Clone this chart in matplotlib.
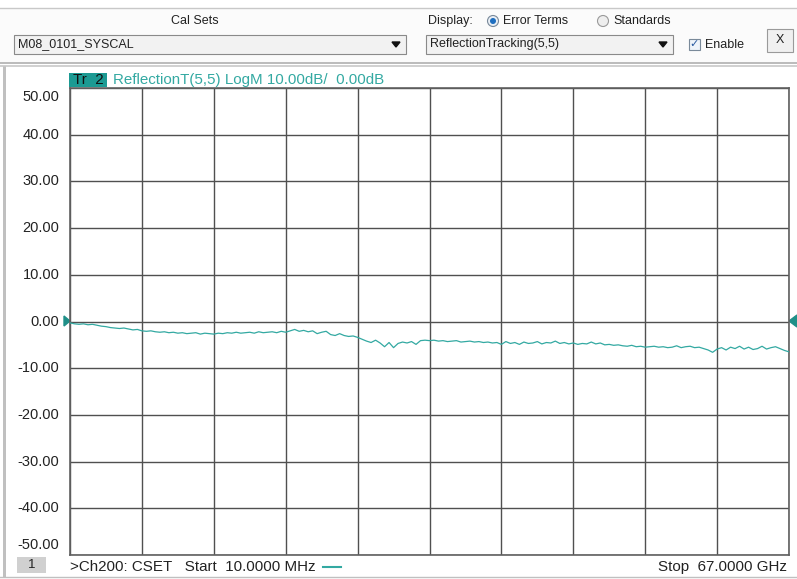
import numpy as np
import matplotlib
matplotlib.use('Agg')
import matplotlib.pyplot as plt
from matplotlib.patches import Rectangle, Circle, Polygon
from matplotlib.transforms import blended_transform_factory

plt.rcParams['font.family'] = ['Liberation Sans', 'DejaVu Sans']

# 扫频设置
START_GHZ = 0.01
STOP_GHZ = 67.0
Y_TICKS = [50, 40, 30, 20, 10, 0, -10, -20, -30, -40, -50]
Y_LABELS = ['50.00', '40.00', '30.00', '20.00', '10.00', '0.00',
            '-10.00', '-20.00', '-30.00', '-40.00', '-50.00']

# ReflectionTracking(5,5) 读数，dB（按格读出，每格16点）
trace_db = [
    -0.3, -0.5, -0.6, -0.5, -0.7, -0.6, -0.8, -1.0, -1.1, -1.3, -1.4, -1.5, -1.4, -1.6, -1.8, -1.7,
    -2.0, -2.1, -2.0, -2.2, -2.3, -2.2, -2.4, -2.3, -2.5, -2.4, -2.6, -2.5, -2.4, -2.7, -2.5, -2.6,
    -2.7, -2.5, -2.6, -2.4, -2.5, -2.3, -2.5, -2.4, -2.3, -2.5, -2.2, -2.4, -2.3, -2.2, -2.4, -2.1,
    -2.3, -2.0, -1.7, -2.1, -1.9, -2.2, -2.0, -2.6, -2.3, -2.1, -2.8, -3.0, -2.6, -3.0, -3.2, -3.1,
    -3.4, -3.8, -4.2, -4.5, -4.0, -4.6, -5.4, -4.5, -5.6, -4.7, -4.4, -4.6, -4.3, -4.9, -4.1, -4.0,
    -4.1, -4.0, -4.2, -4.1, -4.3, -4.2, -4.1, -4.4, -4.3, -4.2, -4.4, -4.3, -4.5, -4.4, -4.6, -4.5,
    -4.9, -4.3, -4.7, -4.5, -4.9, -4.4, -4.7, -4.6, -4.3, -4.8, -4.5, -4.6, -4.2, -4.7, -4.5, -4.8,
    -4.6, -4.9, -4.7, -4.8, -4.4, -4.8, -4.6, -5.0, -4.9, -5.1, -5.0, -5.2, -5.3, -5.1, -5.4, -5.3,
    -5.5, -5.4, -5.3, -5.5, -5.4, -5.6, -5.5, -5.2, -5.6, -5.4, -5.3, -5.6, -5.5, -5.8, -6.1, -6.6,
    -5.9, -5.6, -6.1, -5.5, -5.8, -5.3, -5.9, -5.5, -6.0, -5.8, -5.3, -5.9, -5.6, -5.4, -5.8, -6.2,
    -6.5,
]
freq_ghz = np.linspace(START_GHZ, STOP_GHZ, len(trace_db))

TEAL = '#33a9a2'
GRID = '#505050'
W, H = 797, 579
UI_FS = 9
TXT_FS = 10.9

fig = plt.figure(figsize=(W / 100, H / 100), dpi=100)
fig.patch.set_facecolor('white')

# 顶部控制面板（像素坐标）
bg = fig.add_axes([0, 0, 1, 1])
bg.set_xlim(0, W)
bg.set_ylim(H, 0)
bg.axis('off')
bg.add_patch(Rectangle((0, 8), W, 56, facecolor='#fbfbfb', edgecolor='none'))
bg.plot([0, W], [8, 8], color='#c8c8c8', lw=1)
bg.plot([0, W], [63, 63], color='#b0b0b0', lw=1.2)
bg.plot([0, W], [66, 66], color='#c8c8c8', lw=1.2)
bg.add_patch(Rectangle((3, 66), 3, 511, facecolor='#c0c0c0', edgecolor='none'))
bg.plot([0, W], [577, 577], color='#c0c0c0', lw=1)

bg.text(195, 21, 'Cal Sets', ha='center', va='center', fontsize=UI_FS, color='#222222')
bg.add_patch(Rectangle((14, 35), 392, 19, facecolor='#f2f2f2', edgecolor='#8a8a8a', lw=0.8))
bg.text(18, 44.5, 'M08_0101_SYSCAL', ha='left', va='center', fontsize=UI_FS, color='#222222')
bg.add_patch(Polygon([[392, 42], [400, 42], [396, 47]], closed=True, color='#111111'))

bg.text(428, 21, 'Display:', ha='left', va='center', fontsize=UI_FS, color='#222222')
bg.add_patch(Circle((493, 21), 5.5, facecolor='#e8eef5', edgecolor='#7a8a9a', lw=0.8))
bg.add_patch(Circle((493, 21), 3, facecolor='#1f6fc0', edgecolor='none'))
bg.text(503, 21, 'Error Terms', ha='left', va='center', fontsize=UI_FS, color='#222222')
bg.add_patch(Circle((603, 21), 5.5, facecolor='#eeeeee', edgecolor='#9a9a9a', lw=0.8))
bg.text(613, 21, 'Standards', ha='left', va='center', fontsize=UI_FS, color='#222222')

bg.add_patch(Rectangle((426, 35), 247, 19, facecolor='#f2f2f2', edgecolor='#8a8a8a', lw=0.8))
bg.text(430, 44.5, 'ReflectionTracking(5,5)', ha='left', va='center', fontsize=UI_FS, color='#222222')
bg.add_patch(Polygon([[659, 42], [667, 42], [663, 47]], closed=True, color='#111111'))

bg.add_patch(Rectangle((689, 39), 11, 11, facecolor='#eef3fa', edgecolor='#7a8a9a', lw=0.8))
bg.text(694.5, 44.5, '✓', ha='center', va='center', fontsize=8, color='#2a5aa0',
        family=['DejaVu Sans'])
bg.text(705, 44.5, 'Enable', ha='left', va='center', fontsize=UI_FS, color='#222222')

bg.add_patch(Rectangle((767, 29), 26, 23, facecolor='#f0f0f0', edgecolor='#9a9a9a', lw=0.8))
bg.text(780, 40, 'X', ha='center', va='center', fontsize=UI_FS, color='#222222')

# 迹线区域
ax = fig.add_axes([70 / W, (H - 555) / H, 719 / W, (555 - 88) / H])
ax.set_xlim(START_GHZ, STOP_GHZ)
ax.set_ylim(-50, 50)
ax.set_xticks(np.linspace(START_GHZ, STOP_GHZ, 11))
ax.set_yticks(Y_TICKS)
ax.grid(True, color=GRID, lw=1)
ax.tick_params(length=0, labelbottom=False, labelleft=False)
for s in ax.spines.values():
    s.set_color('#606060')
    s.set_linewidth(1.2)
ax.plot(freq_ghz, trace_db, color=TEAL, lw=0.9, zorder=3)

# 纵轴刻度文字（上下两端向内收）
tr = blended_transform_factory(fig.transFigure, ax.transData)
for v, lab in zip(Y_TICKS, Y_LABELS):
    yy = v
    if v == 50:
        yy = 48.1
    elif v == -50:
        yy = -47.9
    ax.text(59.5 / W, yy, lab, transform=tr, ha='right', va='center',
            fontsize=10.5, color='#222222', clip_on=False)

# 参考位置标记
bg.add_patch(Polygon([[64, 316], [64, 326], [70, 321]], closed=True, color='#1f8f88'))
bg.add_patch(Polygon([[797, 315], [797, 327], [789, 321]], closed=True, color='#1f8f88'))

# 迹线标题
bg.add_patch(Rectangle((69, 73), 38, 14, facecolor='#1c9a93', edgecolor='none'))
bg.text(73, 80, 'Tr  2', ha='left', va='center', fontsize=TXT_FS, color='#111111')
bg.text(113, 80, 'ReflectionT(5,5) LogM 10.00dB/  0.00dB', ha='left', va='center',
        fontsize=TXT_FS, color=TEAL)

# 底部状态栏
bg.add_patch(Rectangle((17, 557), 29, 16, facecolor='#d0d0d0', edgecolor='none'))
bg.text(31.5, 565, '1', ha='center', va='center', fontsize=9.5, color='#222222')
bg.text(70, 567, '>Ch200: CSET   Start  10.0000 MHz', ha='left', va='center',
        fontsize=TXT_FS, color='#222222')
bg.plot([323, 341], [567, 567], color=TEAL, lw=1.5)
bg.text(787, 567, 'Stop  67.0000 GHz', ha='right', va='center',
        fontsize=TXT_FS, color='#222222')

fig.savefig('out.png', dpi=100)
